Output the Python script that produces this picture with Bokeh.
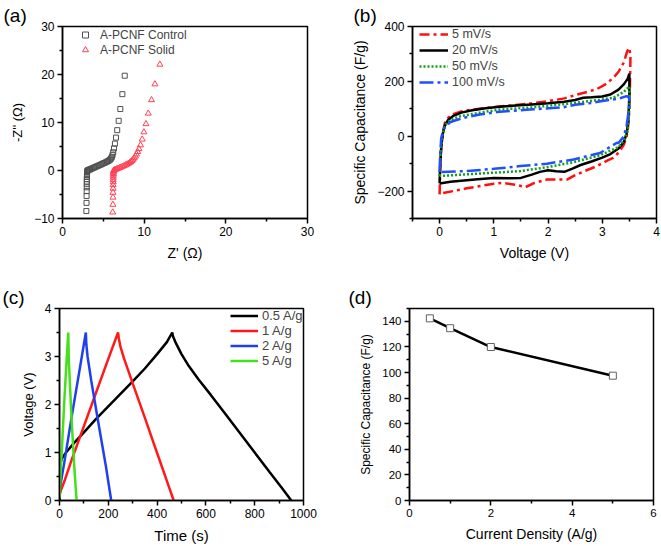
from bokeh.plotting import figure
from bokeh.layouts import column, row
from bokeh.models import FixedTicker, Legend, LegendItem
from bokeh.embed import file_html
from bokeh.resources import INLINE

FONT = "Liberation Sans"

# ---------------- (a) Nyquist ----------------
ctrl_x = [2.92, 2.94, 2.95, 2.96, 2.97, 2.97, 2.98, 2.98, 2.99, 3.0, 3.0, 3.01,
          3.03, 3.08, 3.15, 3.25, 3.38, 3.52, 3.68, 3.85, 4.02, 4.2, 4.38, 4.56,
          4.74, 4.92, 5.1, 5.28, 5.45, 5.6, 5.74, 5.86, 5.96, 6.05, 6.13, 6.21,
          6.3, 6.42, 6.55, 6.7, 6.88, 7.08, 7.33, 7.62]
ctrl_y = [-8.45, -6.75, -5.3, -4.3, -3.5, -2.85, -2.3, -1.8, -1.35, -0.95, -0.6, -0.3,
          -0.1, 0.0, 0.08, 0.15, 0.25, 0.35, 0.47, 0.6, 0.73, 0.87, 1.0, 1.14,
          1.28, 1.42, 1.56, 1.7, 1.84, 1.98, 2.14, 2.32, 2.55, 2.85, 3.25, 3.8,
          4.6, 5.6, 6.85, 8.4, 10.35, 12.8, 15.9, 19.75]
solid_x = [6.15, 6.17, 6.18, 6.19, 6.2, 6.2, 6.21, 6.21, 6.22, 6.22, 6.23, 6.24, 6.25,
           6.27, 6.35, 6.48, 6.63, 6.8, 6.98, 7.16, 7.35, 7.54, 7.72, 7.9, 8.07,
           8.23, 8.38, 8.52, 8.65, 8.78, 8.92, 9.06, 9.2, 9.36, 9.55, 9.76, 9.97,
           10.22, 10.5, 10.9, 11.32, 11.92]
solid_y = [-8.7, -7.1, -5.6, -4.6, -3.75, -3.0, -2.4, -1.9, -1.45, -1.05, -0.7, -0.4, -0.15,
           0.0, 0.1, 0.2, 0.3, 0.42, 0.55, 0.68, 0.82, 0.97, 1.12, 1.28, 1.45,
           1.63, 1.83, 2.05, 2.3, 2.6, 2.95, 3.4, 3.9, 4.5, 5.3, 6.5, 8.0,
           9.7, 11.9, 14.7, 18.0, 22.1]
a_xticks, a_xminor = [0, 10, 20, 30], [5, 15, 25]
a_yticks, a_yminor = [-10, 0, 10, 20, 30], [-5, 5, 15, 25]

# ---------------- (b) CV ----------------
cv5_v = [0.0, 0.01, 0.03, 0.06, 0.1, 0.16, 0.25, 0.4, 0.6, 0.85, 1.1, 1.4, 1.7, 2.0, 2.3,
         2.5, 2.7, 2.9, 3.05, 3.2, 3.3, 3.4, 3.46, 3.5, 3.52,
         3.51, 3.49, 3.45, 3.4, 3.3, 3.2, 3.1, 2.9, 2.7, 2.5, 2.35, 2.15, 1.98, 1.75,
         1.58, 1.43, 1.15, 1.0, 0.5, 0.0]
cv5_c = [-212, -130, -40, 15, 50, 68, 80, 90, 97, 103, 108, 114, 120, 128, 138,
         150, 160, 172, 188, 212, 235, 270, 310, 322, 290,
         180, 60, 0, -30, -60, -79, -88, -109, -125, -142, -158, -158, -158, -170,
         -186, -178, -170, -173, -190, -210]
cv20_v = [0.0, 0.01, 0.03, 0.06, 0.1, 0.16, 0.25, 0.4, 0.6, 0.85, 1.1, 1.4, 1.7, 2.0, 2.3,
          2.5, 2.65, 2.8, 3.0, 3.15, 3.3, 3.4, 3.47, 3.5,
          3.5, 3.48, 3.45, 3.4, 3.3, 3.15, 3.0, 2.8, 2.6, 2.45, 2.3, 2.15, 2.0, 1.85,
          1.7, 1.5, 1.3, 1.0, 0.7, 0.4, 0.2, 0.0]
cv20_c = [-172, -110, -40, 10, 40, 60, 74, 86, 95, 102, 107, 112, 116, 120, 126,
          132, 140, 142, 145, 152, 170, 190, 210, 228,
          150, 60, 10, -20, -45, -65, -78, -92, -105, -118, -130, -128, -124, -130,
          -140, -152, -153, -152, -157, -162, -166, -172]
cv50_v = [0.0, 0.02, 0.05, 0.11, 0.2, 0.38, 0.81, 1.1, 1.7, 2.35, 2.95, 3.2, 3.4, 3.5,
          3.5, 3.47, 3.4, 3.3, 3.27, 2.95, 2.46, 1.98, 1.49, 1.0, 0.51, 0.0]
cv50_c = [-145, -55, 6, 42, 60, 73, 88, 97, 105, 118, 133, 140, 162, 182,
          100, 20, -15, -40, -42, -70, -95, -113, -127, -133, -139, -145]
cv100_v = [0.0, 0.01, 0.03, 0.08, 0.2, 0.44, 0.74, 1.05, 1.66, 2.27, 2.5, 2.8, 3.0, 3.3, 3.45, 3.5,
           3.5, 3.45, 3.4, 3.3, 3.27, 2.96, 2.47, 1.98, 1.49, 1.0, 0.51, 0.0]
cv100_c = [-131, -67, -6, 30, 52, 67, 79, 88, 97, 105, 115, 121, 128, 137, 146, 140,
           110, 40, 0, -25, -24, -61, -85, -100, -109, -119, -127, -131]
b_xticks, b_xminor = [0, 1, 2, 3, 4], [-0.5, 0.5, 1.5, 2.5, 3.5]
b_yticks, b_yminor = [-200, 0, 200, 400], [-300, -100, 100, 300]

# ---------------- (c) GCD ----------------
g05_t = [0, 2, 10, 30, 60, 100, 150, 200, 250, 300, 350, 400, 440, 462,
         465, 475, 500, 530, 570, 620, 680, 740, 800, 860, 910, 950]
g05_v = [0.0, 0.75, 0.88, 1.02, 1.2, 1.42, 1.7, 1.96, 2.22, 2.48, 2.75, 3.05, 3.3, 3.5,
         3.42, 3.3, 3.05, 2.8, 2.52, 2.2, 1.8, 1.4, 1.0, 0.6, 0.27, 0.0]
g1_t = [0, 5, 20, 50, 100, 150, 200, 240, 243, 250, 265, 300, 350, 400, 440, 468]
g1_v = [0.1, 0.2, 0.4, 0.85, 1.55, 2.25, 2.95, 3.5, 3.38, 3.2, 2.95, 2.44, 1.72, 0.99, 0.41, 0.0]
g2_t = [0, 3, 20, 50, 80, 108, 110, 115, 130, 160, 190, 212]
g2_v = [0.15, 0.3, 0.8, 1.75, 2.65, 3.5, 3.25, 3.0, 2.5, 1.6, 0.72, 0.0]
g5_t = [0, 2, 10, 20, 30, 36, 38, 42, 50, 60, 70]
g5_v = [0.05, 0.3, 1.1, 2.1, 3.0, 3.5, 2.95, 2.5, 1.65, 0.75, 0.0]
c_xticks, c_xminor = [0, 200, 400, 600, 800, 1000], [100, 300, 500, 700, 900]
c_yticks, c_yminor = [0, 1, 2, 3, 4], [0.5, 1.5, 2.5, 3.5]

# ---------------- (d) rate ----------------
d_current = [0.5, 1, 2, 5]
d_cap = [142.3, 134.6, 119.9, 97.5]
d_xticks, d_xminor = [0, 2, 4, 6], [1, 3, 5]
d_yticks, d_yminor = [0, 20, 40, 60, 80, 100, 120, 140], [10, 30, 50, 70, 90, 110, 130, 150]


def make(w, h, xr, yr, bl, br, bt, bb, title, toff):
    p = figure(width=w, height=h, x_range=xr, y_range=yr, output_backend="svg",
               toolbar_location=None, min_border_left=bl, min_border_right=br,
               min_border_top=bt, min_border_bottom=bb, title=title)
    p.title.text_font = FONT
    p.title.text_font_size = "19px"
    p.title.text_font_style = "normal"
    p.title.text_color = "#000000"
    p.title.align = "left"
    p.title.offset = toff
    p.title.standoff = 2
    p.xgrid.visible = False
    p.ygrid.visible = False
    p.outline_line_color = "black"
    p.outline_line_width = 1.5
    p.outline_line_alpha = 1
    p.background_fill_color = "white"
    p.border_fill_color = "white"
    return p


def style(p, xl, yl, xfs, yfs, xt, xm, yt, ym, tfs="12px"):
    p.xaxis.axis_label = xl
    p.yaxis.axis_label = yl
    p.xaxis.ticker = FixedTicker(ticks=xt, minor_ticks=xm)
    p.yaxis.ticker = FixedTicker(ticks=yt, minor_ticks=ym)
    p.xaxis.axis_label_text_font_size = xfs
    p.yaxis.axis_label_text_font_size = yfs
    for ax in (p.xaxis[0], p.yaxis[0]):
        ax.axis_line_width = 1.5
        ax.major_tick_line_width = 1.5
        ax.minor_tick_line_width = 1.5
        ax.major_tick_out = 5
        ax.major_tick_in = 0
        ax.minor_tick_out = 3
        ax.minor_tick_in = 0
        ax.major_label_text_font = FONT
        ax.major_label_text_font_size = tfs
        ax.major_label_text_color = "#000000"
        ax.axis_label_text_font = FONT
        ax.axis_label_text_font_style = "normal"
        ax.axis_label_text_color = "#000000"
        ax.major_label_standoff = 3
        ax.axis_label_standoff = 6


def legend(p, items, loc, gw, gh, lh, standoff, fs):
    lg = Legend(items=items, location=loc, glyph_width=gw, glyph_height=gh,
                label_height=lh, label_standoff=standoff, spacing=0, padding=0,
                margin=0, border_line_color=None, background_fill_alpha=0,
                label_text_font=FONT, label_text_font_size=fs)
    p.add_layout(lg, "center")


# (a)
pa = make(330, 270, (0, 30), (-10, 30), 62, 23, 26, 52, "(a)", -59)
ra = pa.scatter(ctrl_x, ctrl_y, marker="square", size=5, fill_color=None,
                line_color="#505050", line_width=1)
rb = pa.scatter(solid_x, solid_y, marker="triangle", size=6, fill_color=None,
                line_color="#ff4055", line_width=1)
style(pa, "Z' (Ω)", "-Z'' (Ω)", "14px", "13px", a_xticks, a_xminor, a_yticks, a_yminor)
legend(pa, [LegendItem(label="A-PCNF Control", renderers=[ra]),
            LegendItem(label="A-PCNF Solid", renderers=[rb])],
       (15, 161), 16, 15, 15, 7, "12px")

# (b)
pb = make(331, 270, (-0.5, 4), (-300, 400), 82, 5, 26, 52, "(b)", -59)
l5 = pb.line(cv5_v + cv5_v[:1], cv5_c + cv5_c[:1], line_color="#ff1010", line_width=2.5, line_dash="10 4 3 4")
l20 = pb.line(cv20_v + cv20_v[:1], cv20_c + cv20_c[:1], line_color="#000000", line_width=2.5)
l50 = pb.line(cv50_v + cv50_v[:1], cv50_c + cv50_c[:1], line_color="#10a010", line_width=2.5, line_dash="2 2")
l100 = pb.line(cv100_v + cv100_v[:1], cv100_c + cv100_c[:1], line_color="#1f4fff", line_width=2.5, line_dash="14 4 3 4")
style(pb, "Voltage (V)", "Specific Capacitance (F/g)", "14px", "14px", b_xticks, b_xminor, b_yticks, b_yminor)
legend(pb, [LegendItem(label="5 mV/s", renderers=[l5]),
            LegendItem(label="20 mV/s", renderers=[l20]),
            LegendItem(label="50 mV/s", renderers=[l50]),
            LegendItem(label="100 mV/s", renderers=[l100])],
       (7, 128), 29, 16, 16, 4, "12.5px")

# (c)
pc = make(330, 276, (0, 1000), (0, 4), 59, 27, 37, 46, "(c)", -57)
k1 = pc.line(g05_t, g05_v, line_color="#000000", line_width=2.5)
k2 = pc.line(g1_t, g1_v, line_color="#ff1a1a", line_width=2.5)
k3 = pc.line(g2_t, g2_v, line_color="#2040ee", line_width=2.5)
k4 = pc.line(g5_t, g5_v, line_color="#44e01a", line_width=2.5)
style(pc, "Time (s)", "Voltage (V)", "15px", "13px", c_xticks, c_xminor, c_yticks, c_yminor)
legend(pc, [LegendItem(label="0.5 A/g", renderers=[k1]),
            LegendItem(label="1 A/g", renderers=[k2]),
            LegendItem(label="2 A/g", renderers=[k3]),
            LegendItem(label="5 A/g", renderers=[k4])],
       (171, 132), 28, 15, 15, 4, "13px")

# (d)
pd = make(331, 276, (0, 6), (0, 150), 79, 8, 38, 45, "(d)", -61)
pd.line(d_current, d_cap, line_color="#000000", line_width=2.5)
pd.scatter(d_current, d_cap, marker="square", size=7, fill_color="white",
           line_color="#606060", line_width=1)
style(pd, "Current Density (A/g)", "Specific Capacitance (F/g)", "14px", "12px",
      d_xticks, d_xminor, d_yticks, d_yminor, tfs="11.5px")

layout = column(row(pa, pb), row(pc, pd))
open("out.html", "w").write(file_html(layout, INLINE))
